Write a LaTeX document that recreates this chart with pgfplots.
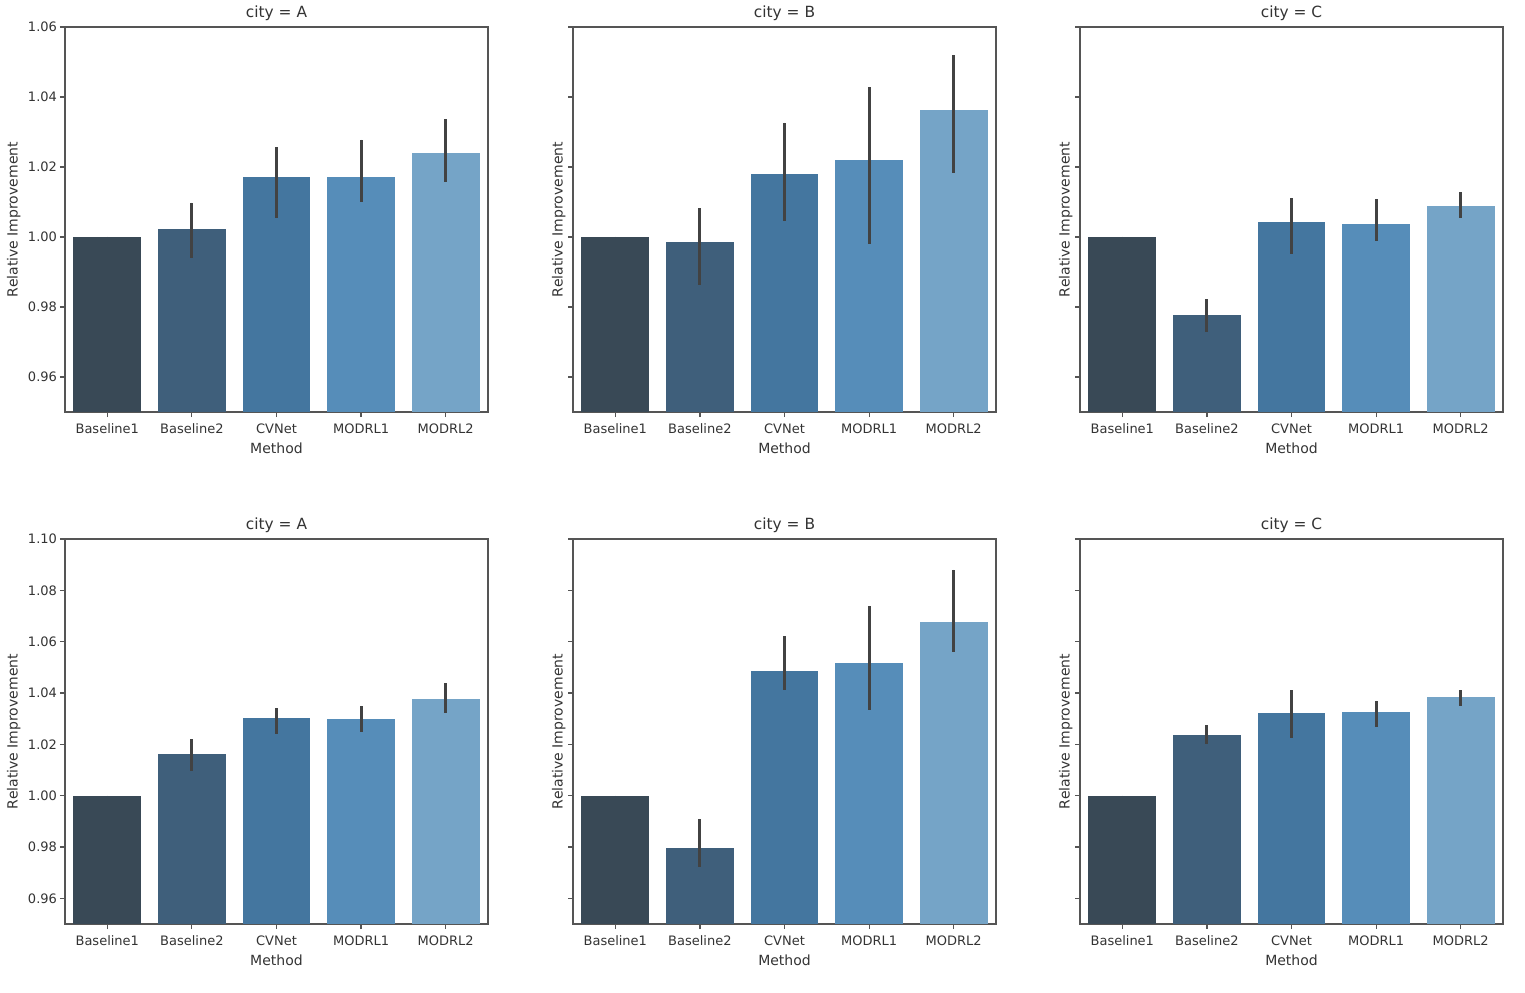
\documentclass[border=0pt]{standalone}
\usepackage{fontspec}
\setmainfont{DejaVu Sans}
\usepackage{pgfplots}
\pgfplotsset{compat=1.18}

\definecolor{cA}{HTML}{394956}
\definecolor{cB}{HTML}{3F5F7B}
\definecolor{cC}{HTML}{44769F}
\definecolor{cD}{HTML}{568DB9}
\definecolor{cE}{HTML}{75A4C7}
\definecolor{errc}{HTML}{424242}
\definecolor{axc}{HTML}{555555}
\definecolor{txtc}{HTML}{333333}

\pgfplotsset{
  panel/.style={
    width=211.5pt, height=192.5pt, scale only axis,
    anchor=south west,
    xmin=-0.5, xmax=4.5, ymin=0.95,
    xtick={0,1,2,3,4},
    xticklabels={Baseline1,Baseline2,CVNet,MODRL1,MODRL2},
    xlabel={Method}, ylabel={Relative Improvement},
    xtick pos=lower, ytick pos=left,
    tick align=outside, major tick length=2.5pt,
    axis line style={axc, line width=0.6pt},
    tick style={axc, line width=0.6pt},
    ticklabel style={font=\fontsize{6.5}{7}\selectfont, text=txtc},
    xlabel style={font=\fontsize{7}{8}\selectfont, text=txtc, inner sep=0pt, yshift=-1pt},
    ylabel style={font=\fontsize{7}{8}\selectfont, text=txtc, inner sep=0pt},
    title style={font=\fontsize{7.7}{9}\selectfont, text=txtc, inner sep=0pt, yshift=-3pt},
    /pgf/number format/assume math mode=true,
    yticklabel style={/pgf/number format/fixed, /pgf/number format/fixed zerofill,
      /pgf/number format/precision=2, xshift=2pt},
  },
  firstcol/.style={ylabel style={at={(axis description cs:-0.104,0.5)}}},
  othercol/.style={yticklabels={}, ylabel style={at={(axis description cs:-0.0166,0.5)}}},
  toprow/.style={ymax=1.06, ytick={0.96,0.98,1.00,1.02,1.04,1.06}},
  botrow/.style={ymax=1.10, ytick={0.96,0.98,1.00,1.02,1.04,1.06,1.08,1.10}},
  bstyle/.style={ybar, bar width=0.8, bar shift=0pt, draw=none, fill=#1, mark=none,
    error bars/.cd, y dir=both, y explicit, error mark=none,
    error bar style={draw=errc, line width=1.5pt}},
}

% \mbar{colour}{x}{mean}{upper error}{lower error}
\newcommand{\mbar}[5]{\addplot[bstyle=#1] coordinates {(#2,#3) += (0,#4) -= (0,#5)};}

\begin{document}
\begin{tikzpicture}
\useasboundingbox (-32.5pt,-34pt) rectangle (730pt,462pt);

% ---- top row
\begin{axis}[panel, toprow, firstcol, at={(0pt,256pt)}, title={city = A}]
  \mbar{cA}{0}{1.0000}{0}{0}
  \mbar{cB}{1}{1.0022}{0.0076}{0.0081}
  \mbar{cC}{2}{1.0171}{0.0086}{0.0116}
  \mbar{cD}{3}{1.0171}{0.0107}{0.0072}
  \mbar{cE}{4}{1.0239}{0.0097}{0.0081}
\end{axis}
\begin{axis}[panel, toprow, othercol, at={(254pt,256pt)}, title={city = B}]
  \mbar{cA}{0}{1.0000}{0}{0}
  \mbar{cB}{1}{0.9985}{0.0097}{0.0121}
  \mbar{cC}{2}{1.0181}{0.0146}{0.0135}
  \mbar{cD}{3}{1.0219}{0.0210}{0.0240}
  \mbar{cE}{4}{1.0362}{0.0158}{0.0180}
\end{axis}
\begin{axis}[panel, toprow, othercol, at={(507.5pt,256pt)}, title={city = C}]
  \mbar{cA}{0}{1.0000}{0}{0}
  \mbar{cB}{1}{0.9777}{0.0045}{0.0048}
  \mbar{cC}{2}{1.0042}{0.0070}{0.0092}
  \mbar{cD}{3}{1.0038}{0.0071}{0.0050}
  \mbar{cE}{4}{1.0089}{0.0040}{0.0036}
\end{axis}

% ---- bottom row
\begin{axis}[panel, botrow, firstcol, at={(0pt,0pt)}, title={city = A}]
  \mbar{cA}{0}{1.0000}{0}{0}
  \mbar{cB}{1}{1.0162}{0.0058}{0.0064}
  \mbar{cC}{2}{1.0302}{0.0039}{0.0062}
  \mbar{cD}{3}{1.0300}{0.0050}{0.0050}
  \mbar{cE}{4}{1.0377}{0.0061}{0.0053}
\end{axis}
\begin{axis}[panel, botrow, othercol, at={(254pt,0pt)}, title={city = B}]
  \mbar{cA}{0}{1.0000}{0}{0}
  \mbar{cB}{1}{0.9796}{0.0114}{0.0073}
  \mbar{cC}{2}{1.0484}{0.0138}{0.0074}
  \mbar{cD}{3}{1.0517}{0.0222}{0.0185}
  \mbar{cE}{4}{1.0677}{0.0204}{0.0116}
\end{axis}
\begin{axis}[panel, botrow, othercol, at={(507.5pt,0pt)}, title={city = C}]
  \mbar{cA}{0}{1.0000}{0}{0}
  \mbar{cB}{1}{1.0235}{0.0040}{0.0035}
  \mbar{cC}{2}{1.0323}{0.0088}{0.0099}
  \mbar{cD}{3}{1.0325}{0.0045}{0.0057}
  \mbar{cE}{4}{1.0384}{0.0027}{0.0035}
\end{axis}
\end{tikzpicture}
\end{document}
